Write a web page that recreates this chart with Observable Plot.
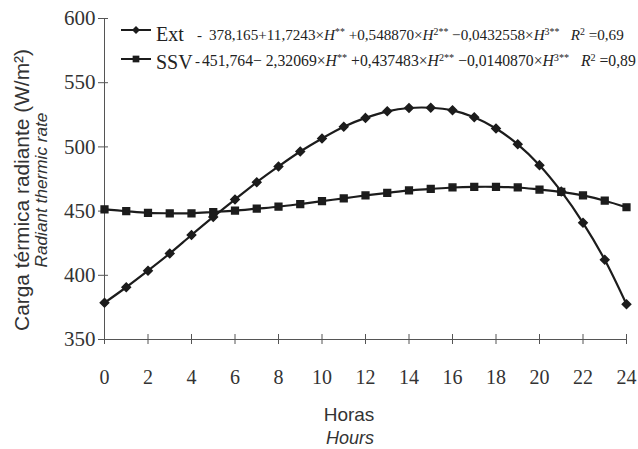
<!DOCTYPE html>
<html><head><meta charset="utf-8">
<script src="https://cdn.jsdelivr.net/npm/d3@7"></script>
<script src="https://cdn.jsdelivr.net/npm/@observablehq/plot@0.6"></script>
<style>body{margin:0;background:#fff} svg{display:block}</style>
</head><body><div id="chart"></div>
<script>
const hours = [0,1,2,3,4,5,6,7,8,9,10,11,12,13,14,15,16,17,18,19,20,21,22,23,24];
const extValues = [378.6,390.7,403.6,417.0,431.4,445.5,459.1,472.5,484.8,496.4,506.6,515.7,522.6,527.7,530.3,530.5,528.5,523.1,514.3,502.0,485.8,465.3,440.9,412.1,377.4];
const ssvValues = [451.4,449.9,448.6,448.3,448.3,449.3,450.4,451.9,453.4,455.5,457.8,459.9,462.2,464.2,466.1,467.3,468.4,468.9,468.9,468.4,466.8,465.0,462.2,458.1,453.0];
const seriesNames = ["Ext", "SSV"];
const xTicks = [0,2,4,6,8,10,12,14,16,18,20,22,24];
const yTicks = [350,400,450,500,550,600];
const yTitle = "Carga térmica radiante (W/m²)";
const yTitleEn = "Radiant thermic rate";
const xTitle = "Horas";
const xTitleEn = "Hours";

const data = [
  ...hours.map((h, i) => ({hour: h, value: extValues[i], series: "Ext"})),
  ...hours.map((h, i) => ({hour: h, value: ssvValues[i], series: "SSV"}))
];

const ink = "#1c1c1c";
const axisInk = "#555";
const serif = "Liberation Serif";
const sans = "Liberation Sans";

const W = 638, H = 449, mL = 104, mR = 12, mT = 18, mB = 110;

const chart = Plot.plot({
  width: W, height: H,
  marginLeft: mL, marginRight: mR, marginTop: mT, marginBottom: mB,
  style: {background: "#fff", color: axisInk, fontFamily: serif},
  x: {domain: [0, 24]},
  y: {domain: [350, 600]},
  symbol: {domain: seriesNames, range: ["diamond2", "square"]},
  marks: [
    Plot.ruleX([0], {stroke: axisInk, strokeWidth: 1}),
    Plot.ruleY([350], {stroke: axisInk, strokeWidth: 1}),
    Plot.axisY({ticks: yTicks, tickSize: 10, dx: 4, tickFormat: () => "", label: null, stroke: axisInk}),
    Plot.axisY({ticks: yTicks, tickSize: 0, tickPadding: 9, label: null, fontSize: 21, fill: "#333"}),
    Plot.axisX({ticks: xTicks, tickSize: 10, dy: -5, tickFormat: () => "", label: null, stroke: axisInk}),
    Plot.axisX({ticks: xTicks, tickSize: 0, tickPadding: 30, label: null, fontSize: 20, fill: "#333"}),
    Plot.line(data, {x: "hour", y: "value", z: "series", curve: "catmull-rom", stroke: ink, strokeWidth: 2.2}),
    Plot.dot(data, {x: "hour", y: "value", symbol: "series", fill: ink, stroke: ink, r: 3.8})
  ]
});

document.getElementById("chart").appendChild(chart);

const svg = d3.select(chart);
svg.selectAll("text").style("font-family", serif);

function fit(sel, base, target) {
  const w = sel.node().getComputedTextLength();
  if (w > 0) sel.attr("font-size", base * target / w);
  return sel;
}

// axis titles
const cy = 190;
fit(svg.append("text").attr("transform", `translate(29,${cy}) rotate(-90)`)
  .attr("text-anchor", "middle").style("font-family", sans).attr("font-size", 18).attr("fill", "#333")
  .text(yTitle), 18, 282);
fit(svg.append("text").attr("transform", `translate(47,${cy}) rotate(-90)`)
  .attr("text-anchor", "middle").style("font-family", sans).attr("font-size", 17).attr("font-style", "italic").attr("fill", "#333")
  .text(yTitleEn), 17, 155);
svg.append("text").attr("x", 349).attr("y", 421).attr("text-anchor", "middle")
  .style("font-family", sans).attr("font-size", 19).attr("fill", "#333").text(xTitle);
svg.append("text").attr("x", 350).attr("y", 444).attr("text-anchor", "middle")
  .style("font-family", sans).attr("font-size", 18).attr("font-style", "italic").attr("fill", "#333").text(xTitleEn);

// legend
const eqs = {
  Ext: [["378,165+11,7243×"],["H","i"],["**","s"],[" +0,548870×"],["H","i"],["2**","s"],[" −0,0432558×"],["H","i"],["3**","s"],["   "],["R","i"],["2","s"],[" =0,69"]],
  SSV: [["451,764− 2,32069×"],["H","i"],["**","s"],[" +0,437483×"],["H","i"],["2**","s"],[" −0,0140870×"],["H","i"],["3**","s"],["   "],["R","i"],["2","s"],[" =0,89"]]
};
const legendRows = [
  {name: "Ext", y: 30, textY: 41, dashX: 197, eqY: 40, eqX: 209, eqW: 415},
  {name: "SSV", y: 59, textY: 69, dashX: 195, eqY: 66, eqX: 202, eqW: 434}
];
legendRows.forEach(row => {
  const g = svg.append("g").attr("text-anchor", "start");
  g.append("line").attr("x1", 121).attr("x2", 151).attr("y1", row.y).attr("y2", row.y).attr("stroke", ink).attr("stroke-width", 2);
  const sym = row.name === "Ext" ? d3.symbolDiamond2 : d3.symbolSquare;
  g.append("path").attr("d", d3.symbol(sym, row.name === "Ext" ? 40 : 45)()).attr("transform", `translate(136,${row.y})`).attr("fill", ink);
  g.append("text").attr("x", 156).attr("y", row.textY).style("font-family", serif).attr("font-size", 20).attr("fill", "#222").text(row.name);
  g.append("text").attr("x", row.dashX).attr("y", row.eqY).style("font-family", serif).attr("font-size", 15).attr("fill", "#222").text("-");
  const t = g.append("text").attr("x", row.eqX).attr("y", row.eqY).style("font-family", serif).attr("font-size", 15).attr("fill", "#222");
  eqs[row.name].forEach(([s, k]) => {
    const ts = t.append("tspan").text(s);
    if (k === "i") ts.attr("font-style", "italic");
    if (k === "s") ts.attr("font-size", "0.65em").attr("baseline-shift", "55%");
  });
  fit(t, 15, row.eqW);
});
</script>
</body></html>
